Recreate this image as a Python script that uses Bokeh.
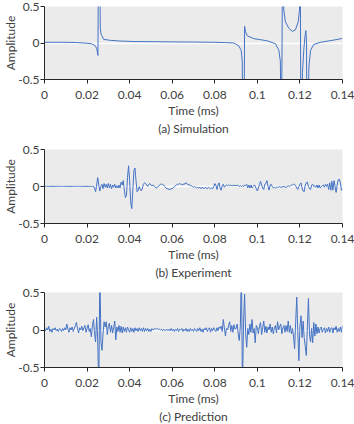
import numpy as np
from bokeh.plotting import figure
from bokeh.layouts import column
from bokeh.models import FixedTicker, CustomJSTickFormatter, Title, Range1d
from bokeh.embed import file_html
from bokeh.resources import INLINE

# ---- data ----
x_ticks = [0, 0.02, 0.04, 0.06, 0.08, 0.1, 0.12, 0.14]
y_ticks = [-0.5, 0, 0.5]
captions = ["(a) Simulation", "(b) Experiment", "(c) Prediction"]

sim_t = [0.0, 0.005, 0.01, 0.015, 0.02, 0.022, 0.0235, 0.0245, 0.0251, 0.0254, 0.0259, 0.0262,
         0.0266, 0.0278, 0.031, 0.035, 0.042, 0.05, 0.06, 0.07, 0.08, 0.085, 0.0889, 0.0913,
         0.0924, 0.0929, 0.0932, 0.0937, 0.094, 0.0944, 0.0952, 0.0983, 0.1015, 0.1046, 0.1085,
         0.1101, 0.1108, 0.1113, 0.1119, 0.1124, 0.1132, 0.1148, 0.1164, 0.1179, 0.1192, 0.1198,
         0.1201, 0.1205, 0.1212, 0.1218, 0.1224, 0.1228, 0.1231, 0.1233, 0.1237, 0.1242, 0.125,
         0.1265, 0.1297, 0.1359, 0.14]
sim_y = [0.01, 0.01, 0.01, 0.006, -0.003, -0.01, -0.03, -0.07, -0.17, 1.5, 1.5, 0.2,
         0.12, 0.05, 0.036, 0.028, 0.02, 0.018, 0.015, 0.013, 0.01, 0.005, 0.0, -0.04,
         -0.1, -0.25, -1.5, -1.5, 0.23, 0.16, 0.1, 0.06, 0.045, 0.03, -0.01,
         -0.1, -0.25, -1.5, 1.5, 0.45, 0.29, 0.2, 0.16, 0.18, 0.29, 0.45,
         1.5, -1.5, -0.4, -0.1, 0.1, 0.17, 0.0, -1.5, -1.5, -0.33, -0.1,
         -0.02, 0.01, 0.04, 0.063]

dt = 0.0005  # sample interval (ms)
exp_y = [
    0.0, 0.003, 0.0, 0.004, 0.0, 0.003, 0.0, 0.004, 0.001, 0.003,
    0.0, 0.004, 0.0, 0.003, 0.001, 0.004, 0.0, 0.003, 0.0, 0.004,
    0.0, 0.003, 0.001, 0.004, 0.0, 0.003, 0.0, 0.004, 0.0, 0.003,
    0.001, 0.004, 0.0, 0.003, 0.0, 0.004, 0.0, 0.003, 0.001, 0.004,
    0.0, 0.003, 0.0, 0.004, 0.0, 0.0, 0.005, -0.02, -0.07, 0.02,
    0.12, 0.02, -0.06, 0.0, 0.03, -0.03, 0.04, -0.01, 0.03, -0.02,
    0.04, -0.02, 0.03, -0.03, 0.02, -0.01, 0.03, -0.02, 0.01, -0.02,
    0.02, -0.02, 0.06, 0.02, 0.08, -0.05, -0.15, -0.12, 0.12, 0.28,
    0.08, -0.22, -0.30, -0.05, 0.22, 0.25, 0.08, -0.07, -0.05, 0.0,
    -0.04, -0.06, -0.02, 0.03, 0.05, 0.04, 0.02, 0.0, 0.03, 0.04,
    0.02, 0.01, 0.02, 0.01, -0.01, -0.02, -0.01, 0.0, 0.02, 0.03,
    0.03, 0.03, 0.02, 0.0, -0.02, -0.03, -0.03, -0.04, -0.04, -0.03,
    -0.03, -0.02, 0.0, 0.01, 0.02, 0.03, 0.03, 0.04, 0.03, 0.03,
    0.02, 0.04, 0.03, 0.05, 0.04, 0.02, 0.03, 0.01, 0.01, 0.0,
    -0.01, 0.0, -0.01, -0.02, -0.01, -0.02, -0.01, -0.03, -0.01, -0.02,
    -0.03, -0.01, -0.02, -0.03, -0.01, -0.02, -0.03, -0.02, -0.03, 0.0,
    0.04, 0.02, -0.04, 0.02, 0.05, -0.02, -0.05, 0.01, 0.03, -0.01,
    0.01, 0.02, 0.01, 0.02, 0.01, 0.02, 0.01, 0.01, 0.02, 0.01,
    0.01, 0.02, 0.01, 0.0, 0.01, 0.0, 0.01, 0.0, 0.02, 0.01,
    0.03, -0.02, 0.02, -0.02, 0.02, -0.02, 0.0, 0.02, 0.01, -0.03,
    -0.06, -0.02, 0.03, 0.07, 0.02, -0.02, -0.04, 0.03, 0.04, 0.08,
    0.0, -0.05, 0.02, 0.03, 0.0, -0.02, -0.01, -0.02, -0.01, -0.01,
    -0.01, 0.0, -0.01, -0.01, 0.0, 0.0, -0.01, -0.01, 0.0, 0.01,
    0.0, 0.01, 0.02, 0.02, 0.03, 0.03, 0.01, -0.02, -0.04, 0.0,
    0.03, 0.05, -0.02, -0.06, -0.07, 0.02, 0.05, 0.06, 0.0, -0.03,
    -0.04, 0.02, 0.03, 0.0, 0.01, -0.01, 0.02, -0.02, 0.02, -0.02,
    0.0, 0.01, 0.02, -0.01, 0.03, 0.0, 0.03, -0.04, 0.05, -0.05,
    0.07, -0.05, 0.08, 0.0, -0.08, 0.02, 0.09, 0.10, 0.05, -0.05,
    -0.04]

pred_y = [
    0.02, -0.01, 0.03, 0.0, 0.05, -0.02, 0.01, -0.03, 0.02, 0.0,
    0.03, -0.01, 0.01, -0.02, 0.02, 0.01, -0.02, 0.02, -0.01, 0.03,
    0.0, 0.08, 0.01, -0.03, 0.03, 0.0, 0.04, -0.02, 0.02, 0.06,
    0.1, 0.02, -0.04, 0.03, 0.0, 0.05, -0.01, 0.03, 0.06, -0.03,
    0.02, 0.07, -0.02, 0.02, -0.09, 0.05, 0.14, -0.04, -0.16, 0.17,
    -0.12, -0.8, 0.8, -0.15, -0.27, -0.05, 0.11, 0.04, 0.11, -0.06,
    0.05, 0.09, -0.03, 0.06, -0.04, 0.03, 0.12, -0.13, 0.04, -0.02,
    0.06, -0.03, 0.05, -0.04, 0.04, -0.02, 0.03, -0.03, 0.04, 0.0,
    -0.03, 0.03, -0.02, 0.02, -0.03, 0.03, -0.01, 0.02, -0.02, 0.03,
    -0.01, 0.02, -0.02, 0.03, -0.02, 0.02, -0.01, 0.02, -0.02, 0.01,
    -0.02, 0.02, 0.0, 0.01, 0.02, 0.01, 0.02, 0.01, 0.01, 0.0,
    0.01, -0.01, 0.01, -0.01, 0.0, 0.01, -0.01, 0.01, -0.01, 0.02,
    -0.01, 0.01, -0.02, 0.01, -0.01, 0.02, -0.02, 0.01, 0.0, 0.02,
    -0.02, 0.01, -0.01, 0.02, -0.02, 0.01, -0.02, 0.02, -0.01, 0.01,
    -0.02, 0.02, 0.0, -0.02, 0.02, -0.01, 0.03, -0.02, 0.01, -0.03,
    0.02, 0.0, 0.03, -0.02, 0.01, 0.03, -0.03, 0.02, -0.01, 0.03,
    0.0, -0.02, 0.03, -0.01, 0.04, 0.02, 0.05, -0.02, 0.14, 0.03,
    -0.08, 0.02, 0.0, 0.06, 0.11, -0.02, 0.06, -0.03, 0.07, 0.01,
    0.02, 0.08, -0.05, -0.14, 0.05, 0.8, -0.8, 0.1, 0.48, -0.05,
    -0.23, 0.02, -0.06, 0.08, -0.03, 0.14, -0.04, 0.02, -0.17, 0.06,
    0.03, -0.05, 0.06, 0.1, -0.06, 0.03, 0.12, -0.03, 0.05, -0.04,
    0.04, 0.0, 0.08, -0.03, 0.04, -0.05, 0.03, 0.06, -0.04, 0.11,
    0.0, 0.05, 0.08, -0.05, 0.03, 0.06, -0.03, 0.06, -0.02, 0.12,
    -0.03, 0.06, -0.05, 0.02, -0.08, -0.25, 0.1, 0.44, -0.03, -0.41,
    0.05, 0.19, -0.1, 0.12, -0.1, -0.22, -0.34, 0.05, 0.42, -0.06,
    -0.16, 0.02, -0.17, 0.1, -0.08, 0.08, -0.05, 0.04, -0.04, 0.02,
    0.04, -0.03, 0.01, 0.03, -0.04, 0.02, -0.02, 0.04, -0.03, 0.02,
    0.03, -0.04, 0.03, 0.0, 0.05, -0.03, 0.02, -0.02, 0.04, -0.03,
    0.06]

exp_t = np.arange(len(exp_y)) * dt
pred_t = np.arange(len(pred_y)) * dt

FONT = "Lato"
TXT = "#404040"
LINE = "#4472C4"
BG = "#EBEBEB"


def make_panel(t, y, caption, height, top, bottom):
    p = figure(width=354, height=height, output_backend="svg", toolbar_location=None,
               x_range=Range1d(0, 0.14), y_range=Range1d(-0.5, 0.5),
               min_border_left=44, min_border_right=12,
               min_border_top=top, min_border_bottom=bottom)
    p.background_fill_color = BG
    p.border_fill_color = "white"
    p.outline_line_color = None
    p.line(t, y, line_color=LINE, line_width=1.0)

    p.xaxis.ticker = FixedTicker(ticks=x_ticks)
    p.yaxis.ticker = FixedTicker(ticks=y_ticks)
    fmt = "return String(Math.round(tick*100)/100)"
    p.xaxis.formatter = CustomJSTickFormatter(code=fmt)
    p.yaxis.formatter = CustomJSTickFormatter(code=fmt)
    p.xaxis.axis_label = "Time (ms)"
    p.yaxis.axis_label = "Amplitude"
    for ax in (p.xaxis, p.yaxis):
        ax.axis_line_color = "#262626"
        ax.major_tick_line_color = "#262626"
        ax.major_tick_out = 4
        ax.major_tick_in = 0
        ax.minor_tick_line_color = None
        ax.major_label_text_font = FONT
        ax.major_label_text_font_size = "12px"
        ax.major_label_text_color = TXT
        ax.axis_label_text_font = FONT
        ax.axis_label_text_font_size = "12px"
        ax.axis_label_text_font_style = "normal"
        ax.axis_label_text_color = TXT
    p.xaxis.major_label_standoff = 7
    p.xaxis.axis_label_standoff = 1
    p.yaxis.major_label_standoff = 1
    p.yaxis.axis_label_standoff = -3
    p.xgrid.grid_line_color = None
    p.ygrid.grid_line_color = "white"
    p.ygrid.grid_line_width = 1.5
    p.ygrid.ticker = FixedTicker(ticks=[0])

    cap = Title(text=caption, align="center", text_font=FONT, text_font_size="12px",
                text_font_style="normal", text_color=TXT, standoff=-4, offset=0)
    p.add_layout(cap, "below")
    return p


pa = make_panel(sim_t, sim_y, captions[0], 142, 6, 63)
pb = make_panel(exp_t, exp_y, captions[1], 142, 7, 61)
pc = make_panel(pred_t, pred_y, captions[2], 140, 8, 57)

layout = column(pa, pb, pc, spacing=0)
open("out.html", "w").write(file_html(layout, INLINE))
